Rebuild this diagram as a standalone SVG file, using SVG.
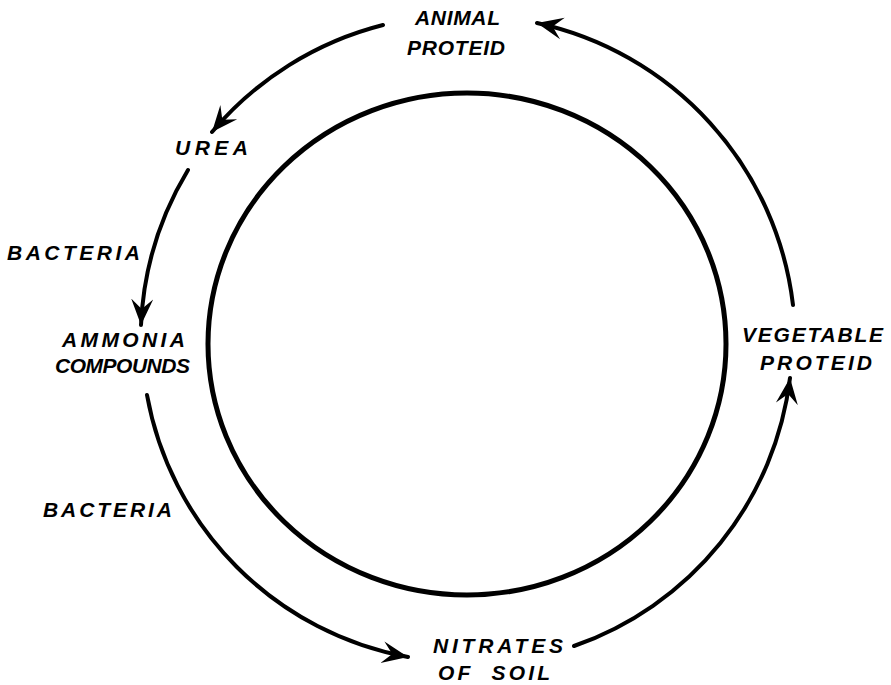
<svg xmlns="http://www.w3.org/2000/svg" width="891" height="685" viewBox="0 0 891 685">
<style>
.lbl{font-family:"Liberation Sans",Arial,sans-serif;font-weight:bold;font-style:italic;font-size:21px;fill:#000}
.arc{fill:none;stroke:#000;stroke-width:4;stroke-linecap:round}
</style>
<defs>
<marker id="ah" markerUnits="userSpaceOnUse" orient="auto" refX="26" refY="12" markerWidth="28" markerHeight="24">
<path d="M26,12 L0,1 L10,12 L0,23 Z" fill="#000"/>
</marker>
</defs>
<rect width="891" height="685" fill="#fff"/>
<g id="cycle-circle">
<ellipse cx="467" cy="344" rx="259" ry="251" fill="none" stroke="#000" stroke-width="5"/>
</g>
<g id="connectors">
<path class="arc" d="M793,305 A328,328 0 0 0 537,23" marker-end="url(#ah)"/>
<path class="arc" d="M383,25 A330,330 0 0 0 212,132" marker-end="url(#ah)"/>
<path class="arc" d="M188,170 A328,328 0 0 0 141,325" marker-end="url(#ah)"/>
<path class="arc" d="M147,395 A325,325 0 0 0 408,657" marker-end="url(#ah)"/>
<path class="arc" d="M574,646 A325,325 0 0 0 790,378" marker-end="url(#ah)"/>
</g>
<g id="animal-proteid">
<text class="lbl" x="415" y="25" textLength="85" lengthAdjust="spacing">ANIMAL</text>
<text class="lbl" x="407" y="55" textLength="98" lengthAdjust="spacing">PROTEID</text>
</g>
<g id="urea">
<text class="lbl" x="175" y="155" textLength="73" lengthAdjust="spacing">UREA</text>
</g>
<g id="bacteria-1">
<text class="lbl" x="7" y="260" textLength="133" lengthAdjust="spacing">BACTERIA</text>
</g>
<g id="ammonia-compounds">
<text class="lbl" x="62" y="347" textLength="123" lengthAdjust="spacing">AMMONIA</text>
<text class="lbl" x="55" y="373" textLength="135" lengthAdjust="spacing">COMPOUNDS</text>
</g>
<g id="bacteria-2">
<text class="lbl" x="43" y="517" textLength="129" lengthAdjust="spacing">BACTERIA</text>
</g>
<g id="nitrates-of-soil">
<text class="lbl" x="433" y="653" textLength="130" lengthAdjust="spacing">NITRATES</text>
<text class="lbl" x="438" y="680" textLength="112" lengthAdjust="spacing" xml:space="preserve">OF  SOIL</text>
</g>
<g id="vegetable-proteid">
<text class="lbl" x="742" y="342" textLength="141" lengthAdjust="spacing">VEGETABLE</text>
<text class="lbl" x="760" y="370" textLength="112" lengthAdjust="spacing">PROTEID</text>
</g>
</svg>
